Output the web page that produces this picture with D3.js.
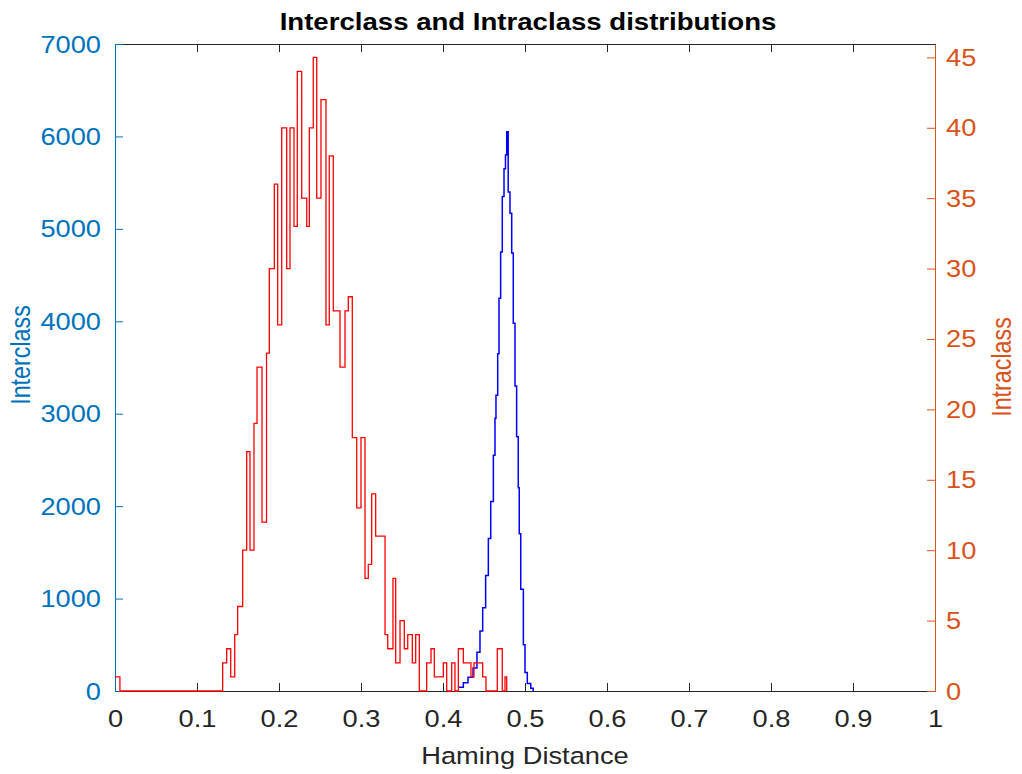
<!DOCTYPE html>
<html>
<head>
<meta charset="utf-8">
<script src="https://cdn.jsdelivr.net/npm/d3@7"></script>
<style>
  body { margin: 0; background: #fff; }
  svg { display: block; font-family: "Liberation Sans", Arial, sans-serif; }
</style>
</head>
<body>
<svg id="chart" width="1022" height="774"></svg>
<script>
// interclass histogram (left axis): bin left edge, count
const interEdges = [0.4187, 0.4248, 0.4305, 0.4366, 0.4414, 0.4451, 0.4484, 0.452, 0.4553, 0.4582,
  0.4614, 0.4634, 0.4646, 0.4667, 0.4683, 0.4703, 0.4723, 0.4744, 0.4762, 0.4777,
  0.4795, 0.4817, 0.4838, 0.4857, 0.4878, 0.4898, 0.4918, 0.493, 0.4948, 0.498,
  0.5, 0.5028, 0.507, 0.51];
const interCounts = [40, 90, 150, 250, 420, 650, 900, 1250, 1650, 2050,
  2550, 2950, 3200, 3650, 4250, 4750, 5350, 5650, 5800, 6050,
  5400, 5170, 4740, 3980, 3300, 2750, 2200, 1700, 1100, 500,
  200, 80, 30, 0];

// intraclass histogram (right axis): bin left edge, count
const intraEdges = [0, 0.006, 0.1313, 0.1362, 0.1411, 0.146, 0.1496, 0.1557, 0.1606, 0.1646,
  0.1695, 0.1732, 0.1793, 0.1848, 0.1882, 0.1943, 0.1984, 0.2033, 0.2094, 0.2134,
  0.2183, 0.2223, 0.2277, 0.2338, 0.237, 0.2418, 0.246, 0.2512, 0.2573, 0.2613,
  0.2662, 0.2744, 0.2805, 0.2845, 0.2894, 0.2948, 0.3, 0.3049, 0.3089, 0.313,
  0.3179, 0.3293, 0.3326, 0.339, 0.3423, 0.3476, 0.3528, 0.357, 0.3626, 0.3667,
  0.3711, 0.3801, 0.3854, 0.3894, 0.4004, 0.4045, 0.4106, 0.4146, 0.4187, 0.4248,
  0.4341, 0.4378, 0.4484, 0.4524, 0.4662, 0.4723, 0.4756, 0.4777];
const intraCounts = [1, 0, 2, 3, 1, 4, 6, 10, 17, 10,
  19, 23, 12, 24, 30, 36, 26, 40, 30, 40,
  33, 44, 35, 33, 40, 45, 35, 42, 26, 38,
  27, 23, 27, 28, 18, 13, 18, 8, 9, 14,
  11, 4, 3, 8, 2, 5, 3, 4, 2, 4,
  0, 2, 3, 1, 2, 0, 2, 0, 3, 2,
  1, 2, 1, 0, 3, 0, 1, 0];

const xTicks = [0, 0.1, 0.2, 0.3, 0.4, 0.5, 0.6, 0.7, 0.8, 0.9, 1];
const leftTicks = [0, 1000, 2000, 3000, 4000, 5000, 6000, 7000];
const rightTicks = [0, 5, 10, 15, 20, 25, 30, 35, 40, 45];

const blueAxis = "#0072BD";
const orangeAxis = "#D95319";
const dark = "#262626";
const stretch = 1.17;  // the figure looks widened, text too
const fs = 23.3;

const svg = d3.select("#chart");
const margin = { left: 115, right: 87, top: 44, bottom: 83 };
const W = 1022 - margin.left - margin.right;
const H = 774 - margin.top - margin.bottom;

const x = d3.scaleLinear().domain([0, 1]).range([0, W]);
const yL = d3.scaleLinear().domain([0, 7000]).range([H, 0]);
const yR = d3.scaleLinear().domain([0, 45.95]).range([H, 0]);

const g = svg.append("g").attr("transform", `translate(${margin.left},${margin.top})`);

// axes
const xAxis = g.append("g")
  .attr("transform", `translate(0,${H})`)
  .call(d3.axisBottom(x).tickValues(xTicks).tickFormat(d3.format("")).tickSizeInner(-8).tickSizeOuter(0).tickPadding(0));
xAxis.selectAll("text")
  .attr("y", null).attr("dy", null)
  .attr("transform", `translate(0,36) scale(${stretch},1)`)
  .attr("font-size", fs).attr("fill", dark);

const xTop = g.append("g")
  .call(d3.axisTop(x).tickValues(xTicks).tickFormat("").tickSizeInner(-8).tickSizeOuter(0));

const lAxis = g.append("g")
  .call(d3.axisLeft(yL).tickValues(leftTicks).tickFormat(d3.format("")).tickSizeInner(-8).tickSizeOuter(0));
lAxis.selectAll("text")
  .attr("x", null).attr("dy", null)
  .attr("transform", `translate(-14,8) scale(${stretch},1)`)
  .attr("font-size", fs).attr("fill", blueAxis);

const rAxis = g.append("g")
  .attr("transform", `translate(${W},0)`)
  .call(d3.axisRight(yR).tickValues(rightTicks).tickSizeInner(-8).tickSizeOuter(0));
rAxis.selectAll("text")
  .attr("x", null).attr("dy", null)
  .attr("transform", `translate(11,8) scale(${stretch},1)`)
  .attr("font-size", fs).attr("fill", orangeAxis);

xAxis.selectAll("path, line").attr("stroke", dark);
xTop.selectAll("path, line").attr("stroke", dark);
lAxis.selectAll("path, line").attr("stroke", blueAxis);
rAxis.selectAll("path, line").attr("stroke", orangeAxis);

// histograms as stairs
const interPts = interEdges.map((e, i) => [e, interCounts[i]]);
const intraPts = intraEdges.map((e, i) => [e, intraCounts[i]]);

const lineL = d3.line().x(d => x(d[0])).y(d => yL(d[1])).curve(d3.curveStepAfter);
const lineR = d3.line().x(d => x(d[0])).y(d => yR(d[1])).curve(d3.curveStepAfter);

g.append("path").datum(interPts)
  .attr("d", lineL).attr("fill", "none").attr("stroke", "#0000FF").attr("stroke-width", 1.5);
g.append("path").datum(intraPts)
  .attr("d", lineR).attr("fill", "none").attr("stroke", "#FF0000").attr("stroke-width", 1.3);

// titles
svg.append("text")
  .attr("transform", `translate(528,30) scale(1.2,1)`)
  .attr("text-anchor", "middle").attr("font-size", 23).attr("font-weight", "bold").attr("fill", "#000")
  .text("Interclass and Intraclass distributions");

svg.append("text")
  .attr("transform", `translate(525,764) scale(${stretch},1)`)
  .attr("text-anchor", "middle").attr("font-size", fs).attr("fill", dark)
  .text("Haming Distance");

svg.append("text")
  .attr("transform", `translate(30,355) rotate(-90) scale(1,${stretch})`)
  .attr("text-anchor", "middle").attr("font-size", fs).attr("fill", blueAxis)
  .text("Interclass");

svg.append("text")
  .attr("transform", `translate(1011,367) rotate(-90) scale(1,${stretch})`)
  .attr("text-anchor", "middle").attr("font-size", fs).attr("fill", orangeAxis)
  .text("Intraclass");
</script>
</body>
</html>
